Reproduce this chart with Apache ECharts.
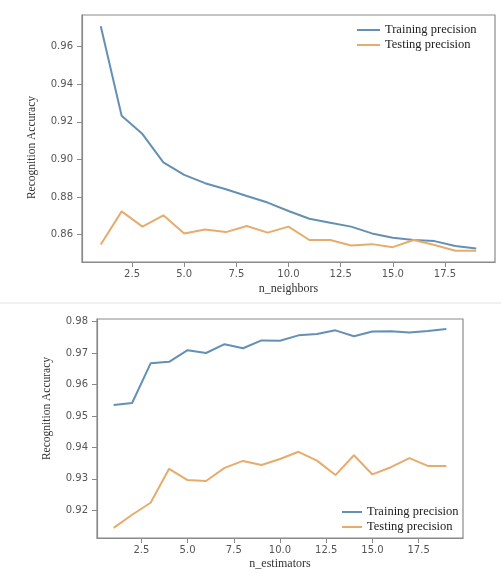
<!DOCTYPE html>
<html>
<head>
<meta charset="utf-8">
<script src="https://cdn.jsdelivr.net/npm/echarts@6/dist/echarts.min.js"></script>
<style>html,body{margin:0;padding:0;background:#fff;}#c{width:501px;height:573px;}</style>
</head>
<body>
<div id="c"></div>
<script>
const xValues = [1,2,3,4,5,6,7,8,9,10,11,12,13,14,15,16,17,18,19];
const knnTrain = [0.9708,0.9232,0.9135,0.8985,0.8918,0.8874,0.8842,0.8806,0.8771,0.8726,0.8685,0.8664,0.8643,0.8607,0.8584,0.8572,0.8566,0.8540,0.8527];
const knnTest  = [0.8548,0.8724,0.8643,0.8703,0.8607,0.8628,0.8614,0.8646,0.8611,0.8643,0.8572,0.8572,0.8543,0.8550,0.8534,0.8572,0.8545,0.8515,0.8515];
const rfTrain  = [0.9535,0.9541,0.9667,0.9672,0.9709,0.9700,0.9728,0.9715,0.9740,0.9739,0.9756,0.9760,0.9772,0.9753,0.9768,0.9769,0.9765,0.9770,0.9776];
const rfTest   = [0.9144,0.9186,0.9224,0.9332,0.9296,0.9293,0.9335,0.9357,0.9344,0.9363,0.9386,0.9358,0.9312,0.9375,0.9314,0.9337,0.9366,0.9341,0.9341];
const xTicks = [2.5,5.0,7.5,10.0,12.5,15.0,17.5];
const yTicks1 = [0.86,0.88,0.90,0.92,0.94,0.96];
const yTicks2 = [0.92,0.93,0.94,0.95,0.96,0.97,0.98];
const seriesNames = ['Training precision','Testing precision'];

const blue = '#6490b4', orange = '#e7ac6c';
const sans = 'DejaVu Sans', serif = 'Liberation Serif';
const tickStyle = {show:true, inside:false, length:5, lineStyle:{color:'#8a8a8a', width:1}};
const lineStyle = {color:'#8a8a8a', width:1.2};

function pairs(ys){ return xValues.map((x,i)=>[x, ys[i]]); }

function xAxis(idx, name, nameGap){
  return {type:'value', gridIndex:idx, min:0.1, max:19.9, name:name, nameLocation:'middle', nameGap:nameGap,
    nameTextStyle:{fontFamily:serif, fontSize:12, color:'#333'},
    axisLine:{show:true, lineStyle:lineStyle}, splitLine:{show:false},
    axisTick:Object.assign({customValues:xTicks}, tickStyle),
    axisLabel:{customValues:xTicks, formatter:v=>v.toFixed(1), fontFamily:sans, fontSize:10, color:'#555', margin:7}};
}
function yAxis(idx, min, max, ticks, dec, pad){
  return {type:'value', gridIndex:idx, min:min, max:max, name:'Recognition Accuracy', nameLocation:'middle', nameGap:44,
    nameTextStyle:{fontFamily:serif, fontSize:11.5, color:'#333', padding:pad},
    axisLine:{show:true, lineStyle:lineStyle}, splitLine:{show:false},
    axisTick:Object.assign({customValues:ticks}, tickStyle),
    axisLabel:{customValues:ticks, formatter:v=>v.toFixed(dec), fontFamily:sans, fontSize:10, color:'#555', margin:9}};
}
function ser(i, name, data, color){
  return {type:'line', name:name, xAxisIndex:i, yAxisIndex:i, data:pairs(data), symbol:'none', smooth:false,
    lineStyle:{color:color, width:2}, itemStyle:{color:color}, silent:true, animation:false};
}
function legend(left, top, w){
  return {orient:'vertical', left:left, top:top, icon:'rect', itemWidth:w, itemHeight:2, itemGap:1,
    data:seriesNames, selectedMode:false,
    textStyle:{fontFamily:serif, fontSize:12.5, color:'#222', lineHeight:14, padding:[0,0,0,0]}};
}

const chart = echarts.init(document.getElementById('c'), null, {renderer:'canvas'});
chart.setOption({
  backgroundColor:'#fff',
  animation:false,
  grid:[
    {left:82, right:6, top:15, bottom:311, show:true, borderColor:'#8a8a8a', borderWidth:1.2, backgroundColor:'#fff'},
    {left:97, right:38, top:319, bottom:35, show:true, borderColor:'#8a8a8a', borderWidth:1.2, backgroundColor:'#fff'}
  ],
  xAxis:[xAxis(0,'n_neighbors',21), xAxis(1,'n_estimators',20)],
  yAxis:[yAxis(0,0.8455,0.9768,yTicks1,2,[0,18,0,0]), yAxis(1,0.9112,0.9808,yTicks2,2,[0,0,0,40])],
  legend:[legend(352, 18, 23), legend(337, 500, 20)],
  series:[
    ser(0, seriesNames[0], knnTrain, blue),
    ser(0, seriesNames[1], knnTest, orange),
    ser(1, seriesNames[0], rfTrain, blue),
    ser(1, seriesNames[1], rfTest, orange)
  ],
  graphic:[
    {type:'rect', shape:{x:0, y:302, width:501, height:2}, style:{fill:'#f0f0f0'}, silent:true}
  ]
});
</script>
</body>
</html>
